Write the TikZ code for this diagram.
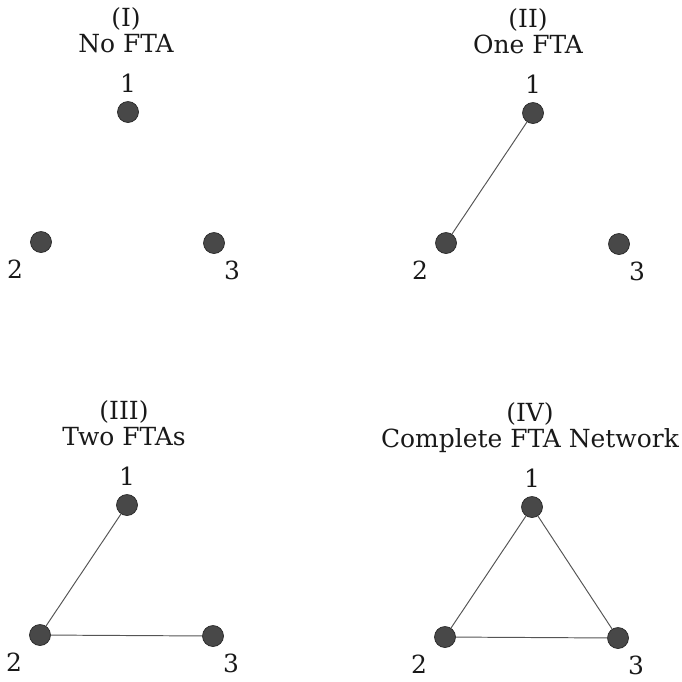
\documentclass[tikz,border=0pt]{standalone}
\usepackage{fontspec}
\setmainfont{DejaVu Serif}
\usepackage{tikz}
\usepackage{xcolor}
\usetikzlibrary{calc}
\definecolor{dotFill}{RGB}{72, 72, 72}
\definecolor{dotEdge}{RGB}{40, 40, 40}
\definecolor{linkColor}{RGB}{85, 85, 85}
\definecolor{labelText}{RGB}{25, 25, 25}

\begin{document}
\begin{tikzpicture}[x=0.02cm, y=-0.02cm]

% Style definitions
\tikzset{
    agent/.style={
        circle, draw=dotEdge, fill=dotFill, line width=0.4pt,
        minimum size=0.42cm, inner sep=0pt
    },
    captext/.style={font=\fontsize{14.2}{17}\selectfont, text=labelText, inner sep=0pt, anchor=base},
    numtext/.style={font=\fontsize{14.2}{17}\selectfont, text=labelText, inner sep=0pt},
    link/.style={draw=linkColor, line width=0.55pt}
}

\useasboundingbox (0,0) rectangle (682,681);

% Panel I: no FTA
\node (a1) [agent] at (128,112) {};
\node (a2) [agent] at ($(a1)+(-87,130)$) {};
\node (a3) [agent] at ($(a1)+(86,131)$) {};
\node (capA) [captext] at ($(a1)+(-2,-86)$) {(I)};
\node (titleA) [captext] at ($(a1)+(-2,-60)$) {No FTA};
\node (numA1) [numtext] at ($(a1)+(0,-29)$) {1};
\node (numA2) [numtext] at ($(a2)+(-26,27)$) {2};
\node (numA3) [numtext] at ($(a3)+(18,27)$) {3};

% Panel II: one FTA
\node (b1) [agent] at (533,113) {};
\node (b2) [agent] at ($(b1)+(-87,130)$) {};
\node (b3) [agent] at ($(b1)+(86,131)$) {};
\node (capB) [captext] at ($(b1)+(-5,-86)$) {(II)};
\node (titleB) [captext] at ($(b1)+(-5,-60)$) {One FTA};
\node (numB1) [numtext] at ($(b1)+(0,-29)$) {1};
\node (numB2) [numtext] at ($(b2)+(-26,27)$) {2};
\node (numB3) [numtext] at ($(b3)+(18,27)$) {3};

% Panel III: two FTAs
\node (c1) [agent] at (127,505) {};
\node (c2) [agent] at ($(c1)+(-87,130)$) {};
\node (c3) [agent] at ($(c1)+(86,131)$) {};
\node (capC) [captext] at ($(c1)+(-3,-86)$) {(III)};
\node (titleC) [captext] at ($(c1)+(-3,-60)$) {Two FTAs};
\node (numC1) [numtext] at ($(c1)+(0,-29)$) {1};
\node (numC2) [numtext] at ($(c2)+(-26,27)$) {2};
\node (numC3) [numtext] at ($(c3)+(18,27)$) {3};

% Panel IV: complete network
\node (d1) [agent] at (532,507) {};
\node (d2) [agent] at ($(d1)+(-87,130)$) {};
\node (d3) [agent] at ($(d1)+(86,131)$) {};
\node (capD) [captext] at ($(d1)+(-2,-86)$) {(IV)};
\node (titleD) [captext] at ($(d1)+(-2,-60)$) {Complete FTA Network};
\node (numD1) [numtext] at ($(d1)+(0,-29)$) {1};
\node (numD2) [numtext] at ($(d2)+(-26,27)$) {2};
\node (numD3) [numtext] at ($(d3)+(18,27)$) {3};

% Links
\draw [link] (b1) -- (b2);
\draw [link] (c1) -- (c2);
\draw [link] (c2) -- (c3);
\draw [link] (d1) -- (d2);
\draw [link] (d2) -- (d3);
\draw [link] (d3) -- (d1);

\end{tikzpicture}
\end{document}
